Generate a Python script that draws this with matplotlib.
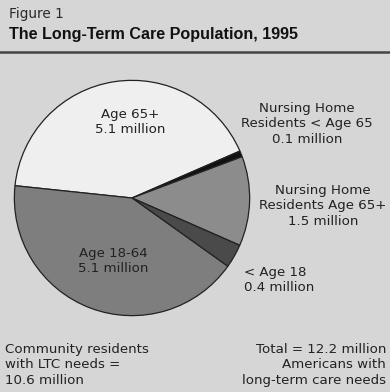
import matplotlib.pyplot as plt

# long-term care population, 1995 (millions)
groups = ["Age 65+", "Nursing Home Residents < Age 65", "Nursing Home Residents Age 65+",
          "< Age 18", "Age 18-64"]
millions = [5.1, 0.1, 1.5, 0.4, 5.1]
colors = ["#efefef", "#111111", "#8c8c8c", "#4a4a4a", "#7e7e7e"]

W, H = 390, 392
bg = "#d6d6d6"

def px(x, y):
    return x / W, 1 - y / H

fig = plt.figure(figsize=(3.9, 3.92), dpi=100, facecolor=bg)

# header
fig.text(*px(9, 14), "Figure 1", fontsize=9.8, color="#2a2a2a", va="center", ha="left",
         family="DejaVu Sans")
fig.text(*px(9, 34), "The Long-Term Care Population, 1995", fontsize=11.6,
         fontweight="bold", color="#111111", va="center", ha="left", family="Liberation Sans")
fig.add_artist(plt.Line2D([0, 1], [1 - 52 / H, 1 - 52 / H], color="#444444", lw=1.8))

# pie: center (132,198), radius 120 px
ax = fig.add_axes([(132 - 120) / W, (H - 198 - 120) / H, 240 / W, 240 / H])
ax.set_facecolor(bg)
ax.pie(millions, colors=colors, startangle=174, counterclock=False, radius=1,
       wedgeprops=dict(edgecolor="#222222", linewidth=0.9))
ax.set_xlim(-1.02, 1.02)
ax.set_ylim(-1.02, 1.02)
ax.set_aspect("equal")
ax.axis("off")

lab = dict(fontsize=9.6, color="#222222", family="DejaVu Sans", linespacing=1.25)
fig.text(*px(130, 122), "Age 65+\n5.1 million", ha="center", va="center", **lab)
fig.text(*px(113, 261), "Age 18-64\n5.1 million", ha="center", va="center", **lab)
fig.text(*px(307, 124), "Nursing Home\nResidents < Age 65\n0.1 million",
         ha="center", va="center", **lab)
fig.text(*px(323, 206), "Nursing Home\nResidents Age 65+\n1.5 million",
         ha="center", va="center", **lab)
fig.text(*px(244, 280), "< Age 18\n0.4 million", ha="left", va="center", **lab)

fig.text(*px(5, 365), "Community residents\nwith LTC needs =\n10.6 million",
         ha="left", va="center", **lab)
fig.text(*px(386, 365), "Total = 12.2 million\nAmericans with\nlong-term care needs",
         ha="right", va="center", multialignment="right", **lab)

fig.savefig("out.png", dpi=100, facecolor=bg)
